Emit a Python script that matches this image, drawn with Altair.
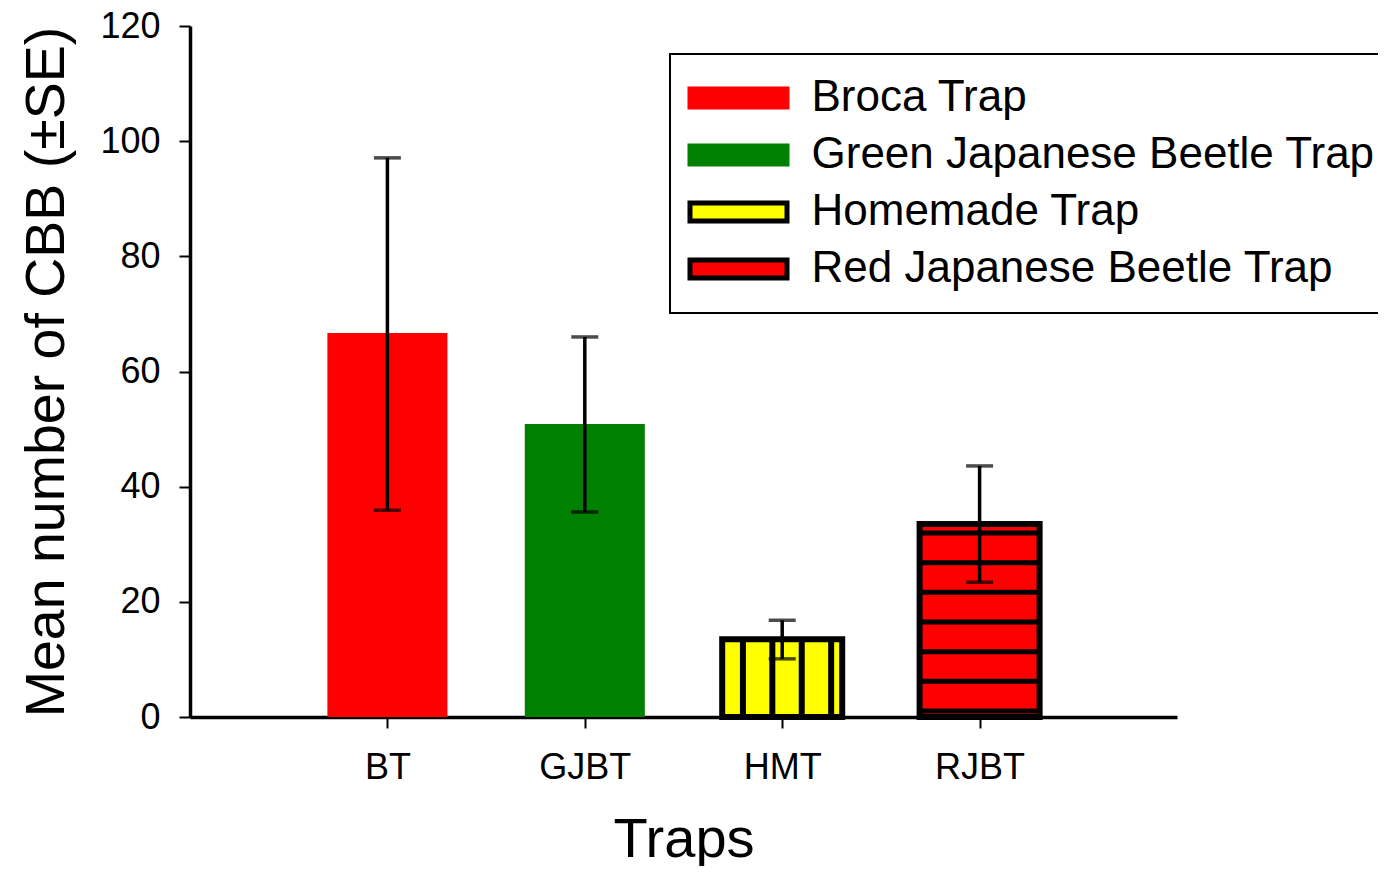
import altair as alt
import pandas as pd
import numpy as np

# ---- data ----
codes = ["BT", "GJBT", "HMT", "RJBT"]
names = ["Broca Trap", "Green Japanese Beetle Trap", "Homemade Trap", "Red Japanese Beetle Trap"]
means = [66.7, 50.9, 13.5, 33.5]
err_low = [35.9, 35.6, 10.1, 23.4]
err_high = [97.1, 66.0, 16.8, 43.6]

# ---- styling ----
fills = ["#ff0000", "#008000", "#ffff00", "#ff0000"]
strokes = ["#ff0000", "#008000", "#000000", "#000000"]
hatch = ["none", "none", "vertical", "horizontal"]
HALF = 0.304          # half bar width in x units
FONT = "Liberation Sans"

pos = list(range(1, len(codes) + 1))
df = pd.DataFrame({
    "code": codes, "name": names, "pos": pos, "mean": means,
    "lo": err_low, "hi": err_high,
    "left": [p - HALF for p in pos], "right": [p + HALF for p in pos],
    "hatched": [h != "none" for h in hatch],
})

# hatch pattern lines (styling only)
hrows, vrows = [], []
for p, m, h in zip(pos, means, hatch):
    if h == "horizontal":
        for yy in np.arange(1.05, m - 1.0, 5.15):
            hrows.append({"left": p - HALF, "right": p + HALF, "yy": float(yy)})
    elif h == "vertical":
        for dx in np.arange(-0.199, HALF - 0.02, 0.149):
            vrows.append({"xx": p + float(dx), "y0": 0.0, "y1": m})
hdf = pd.DataFrame(hrows)
vdf = pd.DataFrame(vrows)

xscale = alt.Scale(domain=[0, 5], nice=False, zero=False)
yscale = alt.Scale(domain=[0, 120], nice=False)
label_expr = str([""] + codes) + "[datum.value]"
xaxis = alt.Axis(values=pos, labelExpr=label_expr, grid=False, title="Traps")
yaxis = alt.Axis(values=[0, 20, 40, 60, 80, 100, 120], grid=False,
                 title="Mean number of CBB (±SE)")

def X(field):
    return alt.X(field, type="quantitative", scale=xscale, axis=xaxis)

def Y(field):
    return alt.Y(field, type="quantitative", scale=yscale, axis=yaxis)

leg = alt.Legend(
    title=None, orient="none", legendX=480, legendY=28,
    symbolType="M-4.41,-0.82H4.41V0.82H-4.41Z", symbolSize=484,
    symbolStrokeWidth=5, symbolOffset=24.5, labelOffset=51,
    labelFontSize=44, labelFont=FONT, labelColor="black", labelLimit=0,
    rowPadding=13, padding=22, strokeColor="black", symbolOpacity=1,
)

bars = alt.Chart(df).mark_bar(strokeWidth=6, opacity=1).encode(
    x=X("left"), x2="right",
    y=Y("mean"), y2=alt.datum(0),
    color=alt.Color("name:N", scale=alt.Scale(domain=names, range=fills), legend=leg),
    stroke=alt.Stroke("name:N", scale=alt.Scale(domain=names, range=strokes), legend=leg),
    strokeWidth=alt.condition("datum.hatched", alt.value(6), alt.value(0)),
)

hlines = alt.Chart(hdf).mark_rule(color="black", strokeWidth=5).encode(
    x=X("left"), x2="right", y=Y("yy"),
)
vlines = alt.Chart(vdf).mark_rule(color="black", strokeWidth=6).encode(
    x=X("xx"), y=Y("y0"), y2="y1",
)

err = alt.Chart(df).mark_rule(color="black", strokeWidth=3.5).encode(
    x=X("pos"), y=Y("lo"), y2="hi",
)
cap_lo = alt.Chart(df).mark_tick(color="black", orient="horizontal", size=27, thickness=3.5).encode(
    x=X("pos"), y=Y("lo"),
)
cap_hi = alt.Chart(df).mark_tick(color="black", orient="horizontal", size=27, thickness=3.5).encode(
    x=X("pos"), y=Y("hi"),
)

chart = alt.layer(bars, hlines, vlines, err, cap_lo, cap_hi).properties(
    width=987, height=691,
    autosize=alt.AutoSizeParams(type="none"),
    padding={"left": 182, "top": 18, "right": 201, "bottom": 149},
).configure_view(stroke=None).configure_axis(
    domainColor="black", domainWidth=3.5, tickColor="black", tickWidth=2, tickSize=11,
    labelFont=FONT, titleFont=FONT, labelColor="black", titleColor="black",
    titleFontWeight="normal",
).configure_axisX(
    labelFontSize=36, labelPadding=22, titleFontSize=56, titlePadding=27,
).configure_axisY(
    labelFontSize=36, labelPadding=19, titleFontSize=55.5, titlePadding=24,
).configure_legend(strokeWidth=2)

chart.save("out.html", embed_options={"renderer": "svg", "actions": False})
